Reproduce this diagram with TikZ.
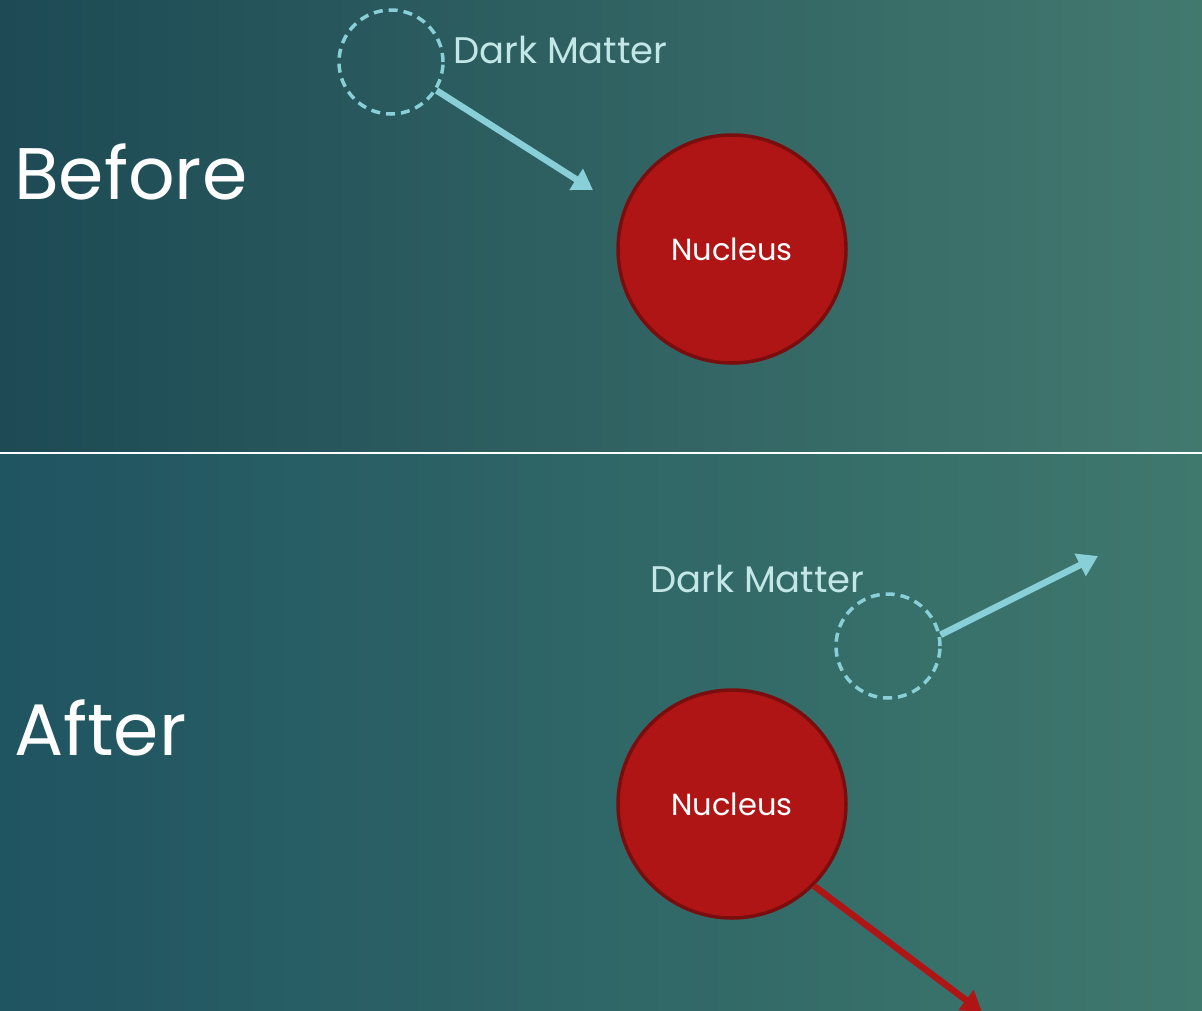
\documentclass[tikz,border=0pt]{standalone}
\usepackage{fontspec}
\setmainfont{Poppins}
\usetikzlibrary{arrows.meta}
\definecolor{bgA}{HTML}{1D4A55}
\definecolor{bgB}{HTML}{42796F}
\definecolor{bgC}{HTML}{1F5461}
\definecolor{bgD}{HTML}{3F786D}
\definecolor{dmcol}{HTML}{88CFD7}
\definecolor{dmtext}{HTML}{C3E6E6}
\definecolor{nucfill}{HTML}{B01515}
\definecolor{nucedge}{HTML}{7A0E0E}
\tikzset{
  nucleus/.style={circle, draw=nucedge, line width=3.5pt, fill=nucfill, minimum size=228pt, inner sep=0pt, text=white, font=\fontsize{30.5}{36}\selectfont},
  dmcircle/.style={circle, draw=dmcol, line width=3.5pt, dash pattern=on 9pt off 6pt, minimum size=104pt, inner sep=0pt},
  dmlabel/.style={text=dmtext, font=\fontsize{37}{44}\selectfont, anchor=base west, inner sep=0pt},
  phase/.style={text=white, font=\fontsize{73}{86}\selectfont, anchor=base west, inner sep=0pt},
  dmarrow/.style={draw=dmcol, line width=6.5pt, -{Triangle[length=20pt,width=24pt]}},
  nucarrow/.style={draw=nucfill, line width=6.5pt, -{Triangle[length=20pt,width=24pt]}}
}
\begin{document}
\begin{tikzpicture}[x=1pt,y=-1pt]
\useasboundingbox (0,0) rectangle (1202,1010);
\shade[left color=bgA, right color=bgB] (0,0) rectangle (1202,453);
\shade[left color=bgC, right color=bgD] (0,453) rectangle (1202,1010);
\draw[white, line width=2pt] (0,453) -- (1202,453);

% Before
\node[phase] (before) at (14,199) {Before};
\node[dmcircle] (dm1) at (391,62) {};
\node[dmlabel] (dml1) at (453,63) {Dark Matter};
\node[nucleus] (nuc1) at (732,249) {Nucleus};
\coordinate (t1) at (593,190);
\draw[dmarrow] (dm1.-32) -- (t1);

% After
\node[phase] (after) at (14,755) {After};
\node[dmlabel] (dml2) at (650,592) {Dark Matter};
\node[dmcircle] (dm2) at (888,646) {};
\node[nucleus] (nuc2) at (732,804) {Nucleus};
\coordinate (t2) at (1098,556);
\coordinate (t3) at (982,1012);
\draw[dmarrow] (dm2.12) -- (t2);
\draw[nucarrow] (nuc2.-45) -- (t3);
\end{tikzpicture}
\end{document}
